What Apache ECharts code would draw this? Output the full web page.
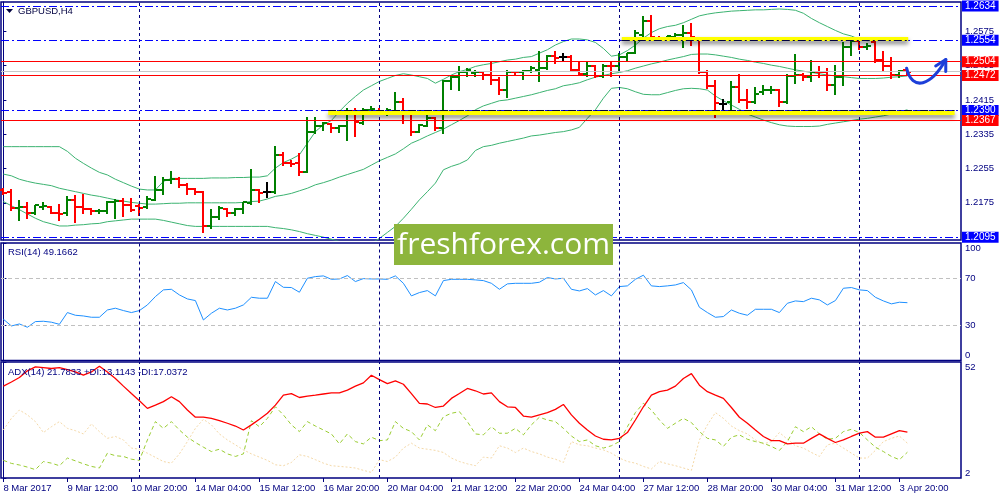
<!DOCTYPE html>
<html><head><meta charset="utf-8">
<script src="https://cdn.jsdelivr.net/npm/echarts@6/dist/echarts.min.js"></script>
<style>html,body{margin:0;padding:0;background:#fff}#c{width:1000px;height:500px}</style>
</head><body><div id="c"></div>
<script>
// ---------- data ----------
const tickLabels = ['8 Mar 2017','9 Mar 12:00','10 Mar 20:00','14 Mar 04:00','15 Mar 12:00','16 Mar 20:00','20 Mar 04:00','21 Mar 12:00','22 Mar 20:00','24 Mar 04:00','27 Mar 12:00','28 Mar 20:00','30 Mar 04:00','31 Mar 12:00','3 Apr 20:00'];
const barsPerLabel = 8;
const weekStarts = [17, 47, 77, 107];
const priceTicks = [1.2095, 1.2175, 1.2255, 1.2335, 1.2415, 1.2495, 1.2575];

const opens = [1.2205,1.2201,1.2162,1.2166,1.2151,1.2166,1.2166,1.2152,1.2151,1.2182,1.2166,1.2160,1.2155,1.2157,1.2178,1.2180,1.2170,1.2167,1.2165,1.2182,
1.2204,1.2228,1.2230,1.2217,1.2207,1.2201,1.2120,1.2141,1.2160,1.2152,1.2160,1.2174,1.2204,1.2200,1.2201,1.2287,1.2267,1.2267,1.2248,1.2341,
1.2353,1.2358,1.2349,1.2353,1.2388,1.2362,1.2392,1.2390,1.2384,1.2388,1.2411,1.2385,1.2341,1.2354,1.2372,1.2349,1.2458,1.2468,1.2481,1.2477,
1.2479,1.2473,1.2462,1.2437,1.2480,1.2479,1.2483,1.2485,1.2489,1.2517,1.2514,1.2514,1.2485,1.2476,1.2493,1.2471,1.2494,1.2493,1.2514,1.2525,
1.2566,1.2598,1.2560,1.2559,1.2561,1.2566,1.2570,1.2556,1.2481,1.2448,1.2406,1.2409,1.2444,1.2415,1.2411,1.2434,1.2437,1.2437,1.2411,1.2471,
1.2473,1.2469,1.2481,1.2479,1.2450,1.2468,1.2538,1.2553,1.2538,1.2551,1.2507,1.2493,1.2473,1.2485];
const highs = [1.2209,1.2207,1.2182,1.2178,1.2170,1.2178,1.2168,1.2172,1.2190,1.2193,1.2195,1.2162,1.2160,1.2179,1.2183,1.2186,1.2186,1.2172,1.2190,1.2238,
1.2236,1.2249,1.2236,1.2222,1.2209,1.2203,1.2160,1.2168,1.2162,1.2162,1.2178,1.2253,1.2207,1.2224,1.2308,1.2294,1.2275,1.2292,1.2375,1.2375,
1.2364,1.2360,1.2357,1.2395,1.2395,1.2395,1.2401,1.2395,1.2395,1.2434,1.2419,1.2388,1.2359,1.2380,1.2375,1.2462,1.2473,1.2493,1.2489,1.2485,
1.2481,1.2506,1.2469,1.2485,1.2483,1.2485,1.2493,1.2528,1.2520,1.2530,1.2525,1.2520,1.2506,1.2506,1.2496,1.2499,1.2504,1.2524,1.2525,1.2577,
1.2611,1.2613,1.2564,1.2564,1.2570,1.2590,1.2594,1.2559,1.2485,1.2462,1.2416,1.2460,1.2475,1.2440,1.2444,1.2450,1.2448,1.2440,1.2475,1.2522,
1.2477,1.2507,1.2493,1.2489,1.2496,1.2549,1.2556,1.2556,1.2547,1.2555,1.2528,1.2514,1.2485,1.2486];
const lows = [1.2196,1.2159,1.2135,1.2139,1.2149,1.2161,1.2151,1.2135,1.2147,1.2131,1.2151,1.2149,1.2152,1.2151,1.2139,1.2145,1.2155,1.2147,1.2162,1.2182,
1.2196,1.2222,1.2213,1.2195,1.2195,1.2106,1.2117,1.2137,1.2145,1.2147,1.2151,1.2172,1.2176,1.2188,1.2197,1.2263,1.2260,1.2240,1.2246,1.2337,
1.2345,1.2341,1.2341,1.2322,1.2331,1.2359,1.2388,1.2384,1.2380,1.2384,1.2362,1.2333,1.2340,1.2353,1.2345,1.2337,1.2440,1.2437,1.2471,1.2471,
1.2463,1.2452,1.2429,1.2421,1.2473,1.2463,1.2479,1.2460,1.2486,1.2500,1.2507,1.2483,1.2473,1.2471,1.2468,1.2468,1.2471,1.2483,1.2508,1.2525,
1.2556,1.2555,1.2555,1.2555,1.2556,1.2538,1.2543,1.2477,1.2442,1.2375,1.2388,1.2384,1.2411,1.2395,1.2407,1.2429,1.2430,1.2401,1.2407,1.2454,
1.2462,1.2458,1.2468,1.2438,1.2429,1.2450,1.2520,1.2533,1.2533,1.2504,1.2483,1.2465,1.2468,1.2475];
const closes = [1.2199,1.2162,1.2166,1.2151,1.2169,1.2167,1.2152,1.2149,1.2182,1.2166,1.2160,1.2155,1.2157,1.2178,1.2180,1.2170,1.2159,1.2163,1.2183,1.2204,
1.2228,1.2230,1.2217,1.2207,1.2201,1.2121,1.2141,1.2162,1.2152,1.2160,1.2176,1.2204,1.2199,1.2200,1.2287,1.2267,1.2266,1.2248,1.2339,1.2353,
1.2360,1.2349,1.2353,1.2388,1.2364,1.2392,1.2393,1.2388,1.2392,1.2411,1.2388,1.2341,1.2357,1.2372,1.2349,1.2458,1.2468,1.2481,1.2485,1.2481,
1.2473,1.2462,1.2437,1.2479,1.2479,1.2483,1.2489,1.2489,1.2517,1.2512,1.2514,1.2485,1.2476,1.2493,1.2471,1.2494,1.2493,1.2514,1.2524,1.2570,
1.2598,1.2561,1.2559,1.2563,1.2566,1.2570,1.2561,1.2481,1.2448,1.2407,1.2406,1.2444,1.2415,1.2411,1.2429,1.2437,1.2438,1.2411,1.2471,1.2473,
1.2469,1.2481,1.2479,1.2450,1.2468,1.2538,1.2553,1.2538,1.2541,1.2507,1.2493,1.2473,1.2483,1.2481];

const bbUpper = [1.2306,1.2306,1.2306,1.2306,1.2306,1.2306,1.2306,1.2306,1.2295,1.2279,1.2267,1.2256,1.2246,1.2240,1.2230,1.2222,1.2214,1.2207,1.2205,1.2205,
1.2225,1.2232,1.2232,1.2232,1.2232,1.2232,1.2233,1.2233,1.2233,1.2234,1.2234,1.2235,1.2235,1.2238,1.2256,1.2269,1.2277,1.2287,1.2314,1.2341,
1.2357,1.2367,1.2388,1.2407,1.2423,1.2438,1.2448,1.2458,1.2465,1.2472,1.2476,1.2473,1.2469,1.2465,1.2454,1.2463,1.2473,1.2481,1.2486,1.2493,
1.2497,1.2500,1.2504,1.2508,1.2510,1.2514,1.2516,1.2524,1.2532,1.2543,1.2551,1.2557,1.2557,1.2555,1.2549,1.2535,1.2517,1.2520,1.2530,1.2543,
1.2559,1.2572,1.2581,1.2586,1.2589,1.2595,1.2603,1.2611,1.2615,1.2618,1.2620,1.2622,1.2623,1.2624,1.2625,1.2625,1.2626,1.2627,1.2626,1.2624,
1.2617,1.2605,1.2595,1.2586,1.2577,1.2569,1.2564,1.2556,1.2553,1.2554,1.2555,1.2555,1.2555,1.2555];
const bbMiddle = [1.2242,1.2238,1.2230,1.2225,1.2221,1.2218,1.2215,1.2209,1.2205,1.2201,1.2197,1.2193,1.2190,1.2186,1.2182,1.2179,1.2176,1.2174,1.2172,1.2172,
1.2173,1.2174,1.2174,1.2175,1.2175,1.2175,1.2175,1.2175,1.2175,1.2175,1.2176,1.2178,1.2179,1.2184,1.2190,1.2193,1.2197,1.2203,1.2209,1.2217,
1.2222,1.2228,1.2235,1.2241,1.2247,1.2253,1.2263,1.2273,1.2281,1.2289,1.2301,1.2314,1.2322,1.2331,1.2339,1.2347,1.2357,1.2367,1.2378,1.2392,
1.2401,1.2407,1.2413,1.2415,1.2419,1.2423,1.2427,1.2432,1.2437,1.2441,1.2448,1.2451,1.2455,1.2462,1.2468,1.2472,1.2476,1.2479,1.2483,1.2489,
1.2494,1.2499,1.2503,1.2508,1.2512,1.2516,1.2521,1.2522,1.2522,1.2520,1.2517,1.2514,1.2510,1.2507,1.2503,1.2500,1.2496,1.2493,1.2489,1.2485,
1.2482,1.2479,1.2476,1.2473,1.2471,1.2469,1.2467,1.2465,1.2465,1.2465,1.2466,1.2468,1.2469,1.2471];
const bbLower = [1.2178,1.2168,1.2159,1.2149,1.2139,1.2131,1.2126,1.2121,1.2121,1.2123,1.2124,1.2126,1.2127,1.2131,1.2133,1.2135,1.2137,1.2137,1.2137,1.2137,
1.2134,1.2130,1.2126,1.2122,1.2120,1.2120,1.2120,1.2120,1.2120,1.2120,1.2120,1.2120,1.2120,1.2120,1.2117,1.2115,1.2112,1.2108,1.2103,1.2099,
1.2095,1.2090,1.2085,1.2081,1.2076,1.2075,1.2081,1.2092,1.2106,1.2120,1.2139,1.2160,1.2182,1.2201,1.2221,1.2252,1.2260,1.2266,1.2275,1.2297,
1.2306,1.2309,1.2314,1.2318,1.2322,1.2326,1.2331,1.2333,1.2336,1.2339,1.2341,1.2345,1.2351,1.2372,1.2392,1.2419,1.2442,1.2444,1.2441,1.2434,
1.2428,1.2427,1.2427,1.2432,1.2437,1.2441,1.2442,1.2441,1.2438,1.2424,1.2413,1.2403,1.2393,1.2382,1.2375,1.2368,1.2362,1.2357,1.2354,1.2353,
1.2353,1.2353,1.2354,1.2358,1.2361,1.2364,1.2367,1.2370,1.2372,1.2375,1.2378,1.2382,1.2387,1.2392];

const rsi = [35.1,29.4,31.1,28.3,33.1,33.4,32.6,30.8,40.8,38.5,37.9,36.8,36.8,43.0,44.5,42.5,40.8,42.5,47.3,54.4,
60.1,60.6,55.8,52.4,51.0,34.5,40.2,44.5,43.0,44.5,47.3,53.8,53.0,53.0,67.2,62.3,62.1,58.1,70.0,71.4,
72.0,69.1,69.4,72.3,67.2,69.7,69.4,69.4,69.1,72.0,65.7,55.0,57.8,59.5,55.0,68.0,69.1,69.1,69.1,68.6,
68.0,65.7,60.6,65.2,65.7,65.7,65.7,66.6,70.6,69.4,70.0,60.6,59.2,61.2,55.8,59.5,55.0,62.9,63.5,69.1,
72.6,63.5,62.9,63.5,64.3,66.3,60.1,45.3,40.8,36.8,37.4,43.0,40.2,38.5,43.6,43.6,43.6,40.8,48.7,50.7,
50.1,53.0,51.6,47.3,51.0,61.5,62.1,60.1,59.5,53.8,50.7,48.2,49.6,49.2];
const adx = [41.6,43.4,45.3,48.2,49.9,49.6,49.2,49.6,48.7,47.7,46.3,47.7,50.2,47.7,44.9,41.6,38.4,35.3,32.0,33.4,
34.9,37.0,34.9,31.3,28.2,28.2,27.7,26.7,25.6,24.4,22.7,24.9,27.3,29.9,33.4,37.7,38.4,36.7,37.3,37.7,
38.2,38.7,38.7,39.9,41.6,43.0,46.3,44.4,42.7,43.9,42.4,38.4,34.2,33.9,32.4,33.0,36.3,38.4,40.6,39.6,
38.2,38.7,34.9,32.7,32.4,28.7,28.2,29.2,30.2,31.6,33.7,29.2,25.6,22.7,20.1,18.7,18.4,19.1,21.6,27.0,
32.7,37.7,39.2,39.9,41.6,44.9,47.0,42.0,39.2,37.7,36.3,32.4,28.2,25.6,22.7,19.9,18.1,18.1,16.7,17.0,
17.0,19.1,21.0,19.1,17.3,18.4,19.9,21.3,22.0,19.6,19.6,21.0,22.4,21.8];
const plusDI = [9.6,8.3,7.6,6.7,5.6,9.1,8.4,7.3,10.6,9.4,8.1,7.0,6.3,12.7,11.6,11.3,10.1,9.6,18.4,26.3,
23.4,26.3,22.7,19.6,17.3,15.3,13.4,14.4,12.4,11.3,12.4,26.7,24.1,27.7,32.7,29.2,24.9,22.0,26.3,24.4,
22.7,21.0,16.7,21.0,17.7,16.7,19.6,18.1,18.4,26.3,23.4,22.0,18.4,24.9,22.4,28.4,29.9,30.6,26.3,21.0,
20.6,24.1,21.3,21.3,23.4,20.6,24.9,28.2,27.0,26.3,23.4,20.1,17.7,18.4,15.9,14.9,15.9,17.7,24.1,30.2,
34.2,31.3,27.0,23.4,25.6,27.7,25.9,22.0,19.1,18.4,15.6,19.6,20.6,18.7,17.7,17.0,15.6,13.9,17.7,24.1,
22.0,24.1,21.0,18.7,19.1,22.0,23.0,21.6,18.4,15.3,13.4,11.3,9.9,13.1];
const minusDI = [22.7,27.7,31.3,29.2,26.3,21.6,24.1,26.3,23.4,22.4,21.0,25.3,22.0,19.1,19.9,18.4,14.9,14.4,12.7,10.9,
9.1,8.4,12.4,17.7,23.4,27.3,24.9,21.0,18.4,16.3,14.1,12.4,11.0,9.6,7.7,7.3,8.7,12.0,11.3,9.9,
8.4,7.3,7.0,6.7,6.3,5.3,4.4,9.9,9.1,11.0,14.9,17.0,14.9,14.4,13.9,13.0,10.6,9.1,8.1,7.3,
11.0,10.6,15.9,14.9,13.0,14.9,13.4,12.4,11.0,10.1,8.7,17.7,16.3,15.9,14.9,14.1,12.7,10.6,9.1,8.4,
7.0,5.9,9.1,8.1,7.3,6.3,5.3,18.4,24.9,30.2,27.7,24.4,22.4,21.0,18.4,16.7,17.7,21.6,18.7,15.9,
14.9,13.0,11.3,16.3,17.0,14.9,12.7,10.6,10.6,13.9,17.7,19.1,20.1,17.0];

const blueLevels = [1.2634, 1.2554, 1.2390, 1.2095];
const redLevels = [1.2504, 1.2472, 1.2367];
const bidPrice = 1.2482;
// [fromBar, toBar, linePrice, bandPrice] for the yellow zones and their dash-dot lines
const zoneSpans = [[40.6, 118.9, 1.2390, 1.2386], [77.3, 113.1, 1.2554, 1.2557]];
// forecast arrow (bar index, price): start, control 1, control 2, end
const arrowPath = [[112.9, 1.2489], [113.6, 1.2433], [116.0, 1.2448], [117.8, 1.2509]];

// ---------- styles ----------
const NAVY = '#000080';
const FONT = '"Liberation Sans", Arial, sans-serif';
const X_MIN = -0.3, X_MAX = 119.7;
const labelIdx = tickLabels.map((_, k) => k * barsPerLabel);
const pair = arr => arr.map((v, i) => [i, v]);

const chart = echarts.init(document.getElementById('c'));

function xAxisFor(g, show) {
  return {
    type: 'value', gridIndex: g, min: X_MIN, max: X_MAX,
    axisLine: {show: false}, splitLine: {show: false},
    axisTick: show ? {show: true, customValues: labelIdx, length: 4, lineStyle: {color: NAVY}} : {show: false},
    axisLabel: show ? {show: true, customValues: labelIdx, formatter: v => tickLabels[Math.round(v / barsPerLabel)],
      align: 'left', color: NAVY, fontSize: 9.5, fontFamily: FONT, margin: 5} : {show: false}
  };
}
function yAxisFor(g, min, max, ticks, fmt, edgeAlign) {
  const lab = {customValues: ticks, formatter: fmt, color: NAVY, fontSize: 9.5, fontFamily: FONT, margin: 4};
  if (edgeAlign) { lab.verticalAlignMinLabel = 'bottom'; lab.verticalAlignMaxLabel = 'top'; }
  return {
    type: 'value', gridIndex: g, position: 'right', min, max,
    axisLine: {show: true, lineStyle: {color: NAVY, width: 1}},
    axisTick: {show: true, customValues: ticks, length: 3, lineStyle: {color: NAVY}},
    splitLine: {show: false},
    axisLabel: lab
  };
}
const sepLine = {
  silent: true, symbol: ['none', 'none'], animation: false, precision: 6,
  label: {show: false},
  lineStyle: {color: NAVY, type: [3, 3], width: 1},
  data: weekStarts.map(v => ({xAxis: v}))
};

function boxLabel(bg) {
  return {show: true, position: 'end', distance: 1, formatter: p => Number(p.value).toFixed(4),
    color: '#fff', backgroundColor: bg, padding: [0, 3, 0, 3], fontSize: 10, fontFamily: FONT, lineHeight: 11};
}
// blue dash-dot levels, grey bid line, yellow zones
const blueData = [];
blueData.push({yAxis: bidPrice, lineStyle: {color: '#c8c8c8', type: 'solid', width: 1}, label: {show: false}});
blueLevels.forEach(v => blueData.push({yAxis: v, label: boxLabel('#0000ff')}));
zoneSpans.forEach(z => {
  blueData.push([{coord: [z[0], z[3]], lineStyle: {color: '#ffff00', width: 4, type: 'solid', shadowColor: 'rgba(0,0,0,0.5)', shadowBlur: 4, shadowOffsetY: 3}, label: {show: false}},
                 {coord: [z[1], z[3]]}]);
  blueData.push([{coord: [z[0], z[2]], lineStyle: {color: '#000040', width: 1, type: [8, 3, 2, 3]}, label: {show: false}},
                 {coord: [z[1], z[2]]}]);
});
// red solid levels
const redData = redLevels.map(v => ({yAxis: v, label: boxLabel('#ff0000')}));

const bbStyle = {color: '#3cb371', width: 1};
const option = {
  animation: false,
  backgroundColor: '#ffffff',
  grid: [
    {left: 1, top: 2, width: 960, height: 238, show: true, borderColor: NAVY, borderWidth: 1.5, backgroundColor: 'transparent'},
    {left: 1, top: 243, width: 960, height: 117.5, show: true, borderColor: NAVY, borderWidth: 1.5, backgroundColor: 'transparent'},
    {left: 1, top: 362, width: 960, height: 116, show: true, borderColor: NAVY, borderWidth: 1.5, backgroundColor: 'transparent'}
  ],
  xAxis: [xAxisFor(0, false), xAxisFor(1, false), xAxisFor(2, true)],
  yAxis: [
    yAxisFor(0, 1.20883, 1.26433, priceTicks, v => v.toFixed(4), false),
    yAxisFor(1, 0, 100, [0, 30, 70, 100], v => String(v), true),
    yAxisFor(2, 2, 52, [2, 52], v => String(v), true)
  ],
  series: [
    {type: 'line', name: 'bbUpper', xAxisIndex: 0, yAxisIndex: 0, data: pair(bbUpper), showSymbol: false, lineStyle: bbStyle, z: 2,
      markLine: sepLine},
    {type: 'line', name: 'bbMiddle', xAxisIndex: 0, yAxisIndex: 0, data: pair(bbMiddle), showSymbol: false, lineStyle: bbStyle, z: 2,
      markLine: {silent: true, symbol: ['none', 'none'], animation: false, precision: 6,
        lineStyle: {color: '#0000ff', type: [8, 3, 2, 3], width: 1}, data: blueData}},
    {type: 'line', name: 'bbLower', xAxisIndex: 0, yAxisIndex: 0, data: pair(bbLower), showSymbol: false, lineStyle: bbStyle, z: 2,
      markLine: {silent: true, symbol: ['none', 'none'], animation: false, precision: 6,
        lineStyle: {color: '#ff0000', type: 'solid', width: 1}, data: redData}},
    {type: 'custom', name: 'bars', xAxisIndex: 0, yAxisIndex: 0, z: 4,
      data: opens.map((o, i) => [i, o, highs[i], lows[i], closes[i]]),
      encode: {x: 0, y: [1, 2, 3, 4]},
      renderItem: (params, api) => {
        const x = api.value(0), o = api.value(1), h = api.value(2), l = api.value(3), c = api.value(4);
        const pH = api.coord([x, h]), pL = api.coord([x, l]), pO = api.coord([x, o]), pC = api.coord([x, c]);
        const col = c > o ? '#008000' : (c < o ? '#ff0000' : '#000000');
        const xx = Math.round(pH[0]);
        const st = {stroke: col, lineWidth: 2};
        const yo = Math.round(pO[1]), yc = Math.round(pC[1]);
        return {type: 'group', children: [
          {type: 'line', shape: {x1: xx, y1: Math.round(pH[1]), x2: xx, y2: Math.round(pL[1]) + 1}, style: st},
          {type: 'line', shape: {x1: xx - 4, y1: yo, x2: xx, y2: yo}, style: st},
          {type: 'line', shape: {x1: xx, y1: yc, x2: xx + 4, y2: yc}, style: st}
        ]};
      }
    },
    {type: 'custom', name: 'arrow', xAxisIndex: 0, yAxisIndex: 0, z: 6,
      data: [arrowPath[0]],
      renderItem: (params, api) => {
        const p = arrowPath.map(pt => api.coord(pt));
        const dx = p[3][0] - p[2][0], dy = p[3][1] - p[2][1];
        const len = Math.sqrt(dx * dx + dy * dy) || 1;
        const ux = dx / len, uy = dy / len;
        const L = 12, a = 0.5;
        const rot = (ang) => [p[3][0] - L * (ux * Math.cos(ang) - uy * Math.sin(ang)), p[3][1] - L * (ux * Math.sin(ang) + uy * Math.cos(ang))];
        const st = {stroke: '#1d3fd9', lineWidth: 3, fill: null, lineCap: 'round', lineJoin: 'round'};
        return {type: 'group', children: [
          {type: 'bezierCurve', shape: {x1: p[0][0], y1: p[0][1], cpx1: p[1][0], cpy1: p[1][1], cpx2: p[2][0], cpy2: p[2][1], x2: p[3][0], y2: p[3][1]}, style: st},
          {type: 'polyline', shape: {points: [rot(a), p[3], rot(-a)]}, style: st}
        ]};
      }
    },
    {type: 'line', name: 'RSI', xAxisIndex: 1, yAxisIndex: 1, data: pair(rsi), showSymbol: false,
      lineStyle: {color: '#1e90ff', width: 1}, z: 3,
      markLine: {silent: true, symbol: ['none', 'none'], animation: false, precision: 6, label: {show: false},
        data: [
          {yAxis: 70, lineStyle: {color: '#c0c0c0', type: [4, 3], width: 1}},
          {yAxis: 30, lineStyle: {color: '#c0c0c0', type: [4, 3], width: 1}},
          ...weekStarts.map(v => ({xAxis: v, lineStyle: {color: NAVY, type: [3, 3], width: 1}}))
        ]}},
    {type: 'line', name: '-DI', xAxisIndex: 2, yAxisIndex: 2, data: pair(minusDI), showSymbol: false,
      lineStyle: {color: '#f5d9a8', width: 1, type: [2, 2]}, z: 2, markLine: sepLine},
    {type: 'line', name: '+DI', xAxisIndex: 2, yAxisIndex: 2, data: pair(plusDI), showSymbol: false,
      lineStyle: {color: '#9acd32', width: 1, type: [4, 3]}, z: 3},
    {type: 'line', name: 'ADX', xAxisIndex: 2, yAxisIndex: 2, data: pair(adx), showSymbol: false,
      lineStyle: {color: '#ff0000', width: 1.3}, z: 4}
  ],
  graphic: [
    {type: 'polygon', z: 100, shape: {points: [[6, 9], [13, 9], [9.5, 13]]}, style: {fill: '#000040'}},
    {type: 'text', z: 100, x: 18, y: 11, style: {text: 'GBPUSD,H4', fill: '#000040', font: '9.5px ' + FONT, textVerticalAlign: 'middle'}},
    {type: 'text', z: 100, x: 8, y: 252, style: {text: 'RSI(14) 49.1662', fill: NAVY, font: '9.5px ' + FONT, textVerticalAlign: 'middle'}},
    {type: 'text', z: 100, x: 8, y: 372, style: {text: 'ADX(14) 21.7833 +DI:13.1143 -DI:17.0372', fill: NAVY, font: '9.5px ' + FONT, textVerticalAlign: 'middle'}},
    {type: 'rect', z: 110, shape: {x: 394, y: 224, width: 219, height: 41}, style: {fill: '#8db53c'}},
    {type: 'text', z: 111, x: 503.5, y: 245, style: {text: 'freshforex.com', fill: '#ffffff', font: '30px "Open Sans", "Noto Sans", sans-serif', textAlign: 'center', textVerticalAlign: 'middle'}}
  ]
};
chart.setOption(option);
</script>
</body></html>
